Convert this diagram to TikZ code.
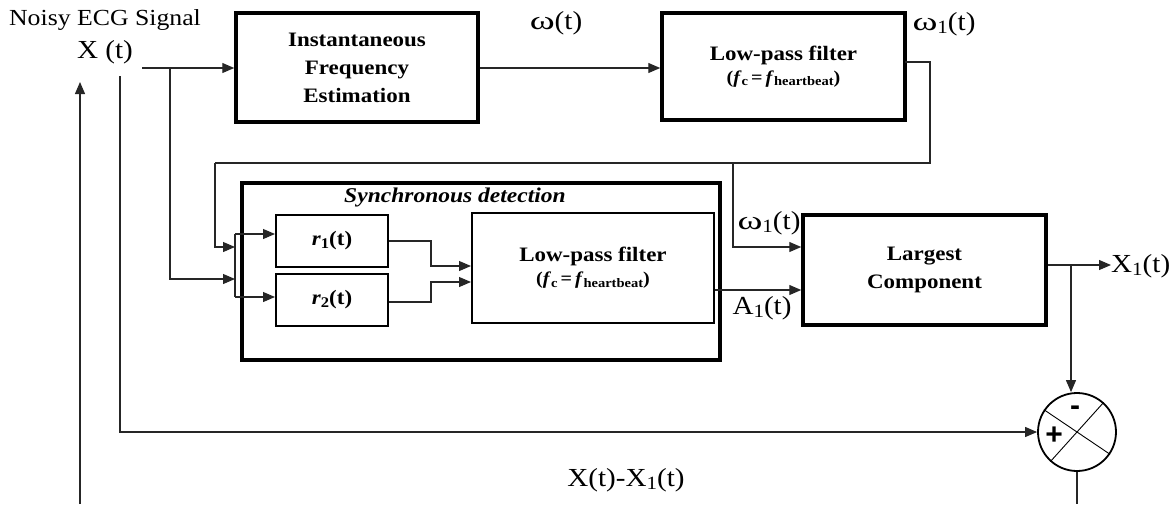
\documentclass[tikz,border=0pt]{standalone}
\usepackage{fontspec}
\setmainfont{Liberation Serif}[FakeStretch=1.12]
\newfontfamily\signfont{Liberation Sans}
\usetikzlibrary{arrows.meta,calc}
% lowered, reduced index as used in the signal names
\newcommand\lsub[1]{\raisebox{-0.3ex}{\scalebox{0.72}{#1}}}
% wide omega for the frequency signals
\newcommand\omg{\scalebox{1.3}[1]{ω}}
\newcommand\cutoff{{\fontsize{18}{20}\selectfont(\textit{f}\lsub{c}\,=\,\textit{f}\lsub{heartbeat})}}
\tikzset{
  wire/.style={line width=1.1pt, draw=black!85},
  arr/.style={wire, -{Triangle[length=12pt,width=10pt]}},
  bigbox/.style={draw, line width=3.5pt, inner sep=0pt, align=center,
    font=\bfseries\fontsize{20.5}{28}\selectfont},
  midbox/.style={draw, line width=2pt, inner sep=0pt, align=center,
    font=\bfseries\fontsize{20.5}{28}\selectfont},
  lbl/.style={inner sep=0pt, font=\fontsize{26}{28}\selectfont},
  sign/.style={inner sep=0pt, font=\signfont\bfseries\fontsize{30}{30}\selectfont},
}
\begin{document}
\begin{tikzpicture}[x=1pt,y=-1pt]
\useasboundingbox (0,0) rectangle (1176,504);

% blocks
\node[bigbox, minimum width=242pt, minimum height=109pt] (ife) at (357,67.5)
  {Instantaneous\\Frequency\\Estimation};
\node[bigbox, minimum width=243pt, minimum height=107pt] (lpfa) at (783.5,66.5)
  {Low-pass filter\\[-5pt]\cutoff};
\node[bigbox, minimum width=478pt, minimum height=177pt] (sync) at (481,271.5) {};
\node[inner sep=0pt, font=\bfseries\itshape\fontsize{21}{24}\selectfont] (synct) at (455,197)
  {Synchronous detection};
\node[midbox, minimum width=112pt, minimum height=52pt] (ra) at (332,241)
  {\textit{r}\lsub{1}(t)};
\node[midbox, minimum width=112pt, minimum height=52pt] (rb) at (332,300)
  {\textit{r}\lsub{2}(t)};
\node[midbox, minimum width=242pt, minimum height=110pt] (lpfb) at (593,268)
  {Low-pass filter\\[-5pt]\cutoff};
\node[bigbox, minimum width=243pt, minimum height=110pt] (lc) at (924.5,270)
  {Largest\\Component};
\node[draw, circle, line width=1.8pt, minimum size=78pt, inner sep=0pt] (sum) at (1077,432) {};
\draw[line width=0.9pt] (sum.146) -- (sum.-34);
\draw[line width=0.9pt] (sum.48) -- (sum.228);
\node[sign] (minus) at (1075,411) {-};
\node[sign] (plus) at (1054,436) {+};

% signal labels
\node[inner sep=0pt, font=\fontsize{23}{26}\selectfont] (noisy) at (105,20) {Noisy ECG Signal};
\node[lbl] (xin) at (105,52) {X (t)};
\node[lbl] (om) at (556,23) {\omg(t)};
\node[lbl] (oma) at (944,24) {\omg\lsub{1}(t)};
\node[lbl] (omb) at (769,223) {\omg\lsub{1}(t)};
\node[lbl] (amp) at (762,308) {A\lsub{1}(t)};
\node[lbl, anchor=west] (xout) at (1111,266) {X\lsub{1}(t)};
\node[lbl] (diff) at (626,480) {X(t)-X\lsub{1}(t)};

% junction points
\coordinate (src) at (142,68);
\coordinate (ja) at (170,68);
\coordinate (jb) at (120,76);
\coordinate (fb) at (80,504);
\coordinate (fbt) at (80,82);
\coordinate (lo) at (905,62);
\coordinate (lr) at (930,163);
\coordinate (ll) at (215,163);
\coordinate (jc) at (733,163);
\coordinate (bus) at (235,247);
\coordinate (busb) at (235,279);
\coordinate (bt) at (235,234);
\coordinate (bb) at (235,297);
\coordinate (ma) at (431,241);
\coordinate (mb) at (431,302);
\coordinate (jd) at (1071,265);
\coordinate (sb) at (1077,504);

% connectors
\draw[arr] (src) -- (ife.west |- src);
\draw[arr] (ja) |- (busb);
\draw[arr] (jb) |- (sum.west);
\draw[arr] (fb) -- (fbt);
\draw[wire] (sum.south) -- (sb);
\draw[arr] (ife.east |- 0,68) -- (lpfa.west |- 0,68);
\draw[wire] (lo) -| (lr) -- (ll);
\draw[arr] (ll) |- (bus);
\draw[arr] (jc) |- (lc.west |- 0,247);
\draw[wire] (bt) -- (bb);
\draw[arr] (bt) -- (ra.west |- bt);
\draw[arr] (bb) -- (rb.west |- bb);
\draw[arr] (ra.east |- ma) -- (ma) |- (lpfb.west |- 0,266);
\draw[arr] (rb.east |- mb) -- (mb) |- (lpfb.west |- 0,282);
\draw[arr] (lpfb.east |- 0,290) -- (lc.west |- 0,290);
\draw[arr] (lc.east |- jd) -- (xout.west |- jd);
\draw[arr] (jd) -- (jd |- sum.north);
\end{tikzpicture}
\end{document}
